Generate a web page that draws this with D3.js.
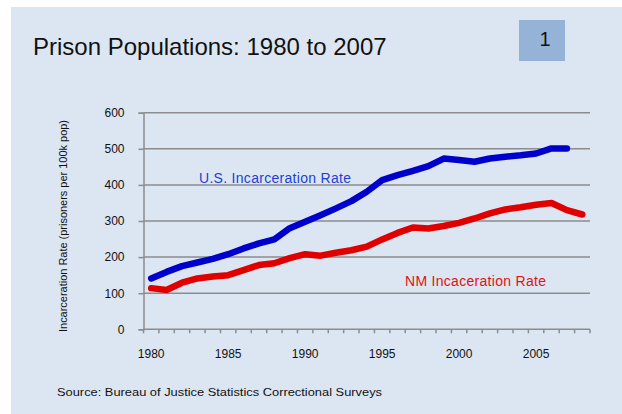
<!DOCTYPE html>
<html lang="en">
<head>
<meta charset="utf-8" />
<title>Prison Populations: 1980 to 2007</title>
<script src="https://d3js.org/d3.v7.min.js"></script>
<style>
  body { margin: 0; background: #fff; }
  text { font-family: Arial, "Liberation Sans", sans-serif; }
</style>
</head>
<body>
<script>
  // data
  var years = d3.range(1980, 2009);
  var usRate = [141, 159, 175, 185, 195, 208, 224, 238, 249, 280, 298, 316, 335, 355, 381, 413,
                427, 439, 452, 473, 469, 464, 473, 478, 482, 487, 501, 501];
  var nmRate = [114, 109, 129, 141, 146, 150, 164, 178, 183, 197, 208, 204, 212, 219, 229, 249,
                267, 282, 279, 286, 295, 307, 321, 332, 338, 345, 350, 330, 318];
  var yTicks = [0, 100, 200, 300, 400, 500, 600];
  var xLabels = [1980, 1985, 1990, 1995, 2000, 2005];

  var w = 622, h = 414;
  var svg = d3.select("body").append("svg")
      .attr("width", w)
      .attr("height", h);

  // slide background
  svg.append("rect")
      .attr("x", 11).attr("y", 7)
      .attr("width", w - 11).attr("height", h - 7)
      .attr("fill", "#dce6f2");

  svg.append("text")
      .attr("x", 33).attr("y", 55)
      .style("font-size", "24px")
      .attr("fill", "#111")
      .text("Prison Populations: 1980 to 2007");

  svg.append("rect")
      .attr("x", 519).attr("y", 20)
      .attr("width", 46).attr("height", 41)
      .attr("fill", "#95b3d7");
  svg.append("text")
      .attr("x", 545).attr("y", 46)
      .attr("text-anchor", "middle")
      .style("font-size", "20px")
      .attr("fill", "#111")
      .text("1");

  var x = d3.scaleBand()
      .domain(years)
      .range([143.5, 590])
      .padding(0);
  var cx = function(yr){ return x(yr) + x.bandwidth() / 2; };

  var y = d3.scaleLinear()
      .domain([0, 600])
      .range([329.3, 112.7]);

  // gridlines
  svg.selectAll(".grid")
      .data(yTicks.filter(function(d){ return d > 0; }))
      .enter()
      .append("line")
      .attr("x1", 143.5).attr("x2", 590)
      .attr("y1", function(d){ return y(d); })
      .attr("y2", function(d){ return y(d); })
      .attr("stroke", "#8c8c8c")
      .attr("stroke-width", 1.5);

  // y axis
  var yAxis = svg.append("g")
      .attr("transform", "translate(143.5,0)")
      .call(d3.axisLeft(y).tickValues(yTicks).tickSize(5).tickPadding(14));
  yAxis.select(".domain").attr("stroke", "#8c8c8c").attr("stroke-width", 1.5);
  yAxis.selectAll(".tick line").attr("stroke", "#8c8c8c").attr("stroke-width", 1.5);
  yAxis.selectAll(".tick text")
      .style("font-size", "12px")
      .style("font-family", "Arial, 'Liberation Sans', sans-serif")
      .attr("fill", "#111");

  // x axis: ticks between categories
  var edges = years.map(function(d){ return x(d); }).concat([590]);
  svg.append("line")
      .attr("x1", 143.5).attr("x2", 590)
      .attr("y1", y(0)).attr("y2", y(0))
      .attr("stroke", "#8c8c8c").attr("stroke-width", 1.5);
  svg.selectAll(".xtick")
      .data(edges)
      .enter()
      .append("line")
      .attr("x1", function(d){ return d; })
      .attr("x2", function(d){ return d; })
      .attr("y1", y(0)).attr("y2", y(0) + 4)
      .attr("stroke", "#8c8c8c").attr("stroke-width", 1.5);
  svg.selectAll(".xlabel")
      .data(xLabels)
      .enter()
      .append("text")
      .attr("x", function(d){ return cx(d); })
      .attr("y", 357.5)
      .attr("text-anchor", "middle")
      .style("font-size", "12px")
      .attr("fill", "#111")
      .text(function(d){ return d; });

  svg.append("text")
      .attr("transform", "translate(67,226) rotate(-90)")
      .attr("text-anchor", "middle")
      .attr("textLength", 212)
      .attr("lengthAdjust", "spacingAndGlyphs")
      .style("font-size", "11px")
      .attr("fill", "#111")
      .text("Incarceration Rate (prisoners per 100k pop)");

  var line = d3.line()
      .x(function(d){ return cx(d.year); })
      .y(function(d){ return y(d.value); });

  var usData = usRate.map(function(v, i){ return {year: years[i], value: v}; });
  var nmData = nmRate.map(function(v, i){ return {year: years[i], value: v}; });

  svg.append("path")
      .datum(nmData)
      .attr("d", line)
      .attr("fill", "none")
      .attr("stroke", "#e00000")
      .attr("stroke-width", 6.5)
      .attr("stroke-linejoin", "round")
      .attr("stroke-linecap", "round");

  svg.append("path")
      .datum(usData)
      .attr("d", line)
      .attr("fill", "none")
      .attr("stroke", "#0000cc")
      .attr("stroke-width", 6.5)
      .attr("stroke-linejoin", "round")
      .attr("stroke-linecap", "round");

  svg.append("text")
      .attr("x", 199).attr("y", 183)
      .attr("textLength", 152)
      .style("font-size", "14px")
      .attr("fill", "#1c3fd6")
      .text("U.S. Incarceration Rate");

  svg.append("text")
      .attr("x", 405).attr("y", 285.5)
      .attr("textLength", 141)
      .style("font-size", "14px")
      .attr("fill", "#e31010")
      .text("NM Incaceration Rate");

  svg.append("text")
      .attr("x", 57).attr("y", 396)
      .attr("textLength", 325)
      .attr("lengthAdjust", "spacingAndGlyphs")
      .style("font-size", "11.5px")
      .attr("fill", "#111")
      .text("Source: Bureau of Justice Statistics Correctional Surveys");
</script>
</body>
</html>
